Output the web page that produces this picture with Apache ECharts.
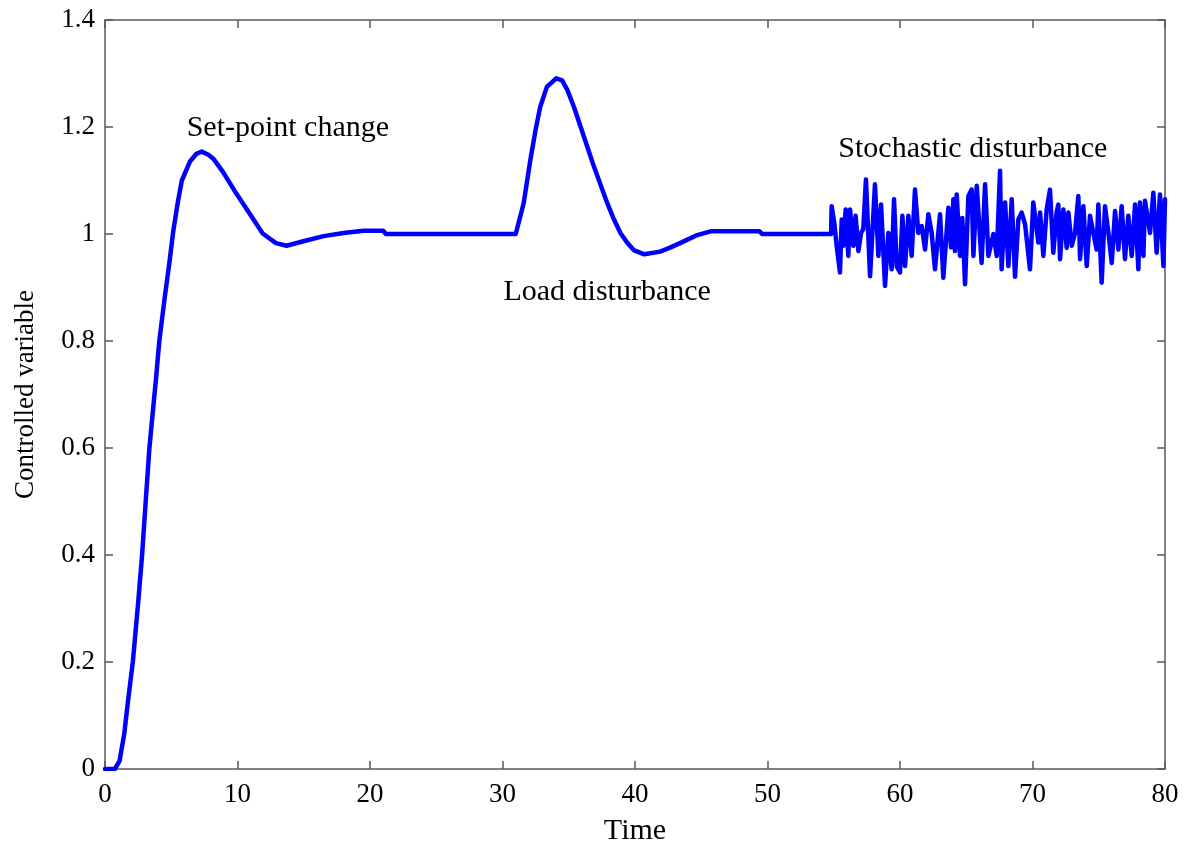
<!DOCTYPE html>
<html>
<head>
<meta charset="utf-8">
<script src="https://cdn.jsdelivr.net/npm/echarts@6/dist/echarts.min.js"></script>
<style>
html,body{margin:0;padding:0;background:#fff;}
#chart{width:1184px;height:846px;}
</style>
</head>
<body>
<div id="chart"></div>
<script>
// ---- Data ----
// Set-point change response
const setpointTime  = [0, 0.5, 0.75, 1.1, 1.45, 1.75, 2.1, 2.5, 2.8, 3.1, 3.35, 3.6, 3.85, 4.1, 4.5, 4.85, 5.15, 5.5, 5.8, 6.4, 6.9, 7.3, 7.8, 8.2, 8.9, 9.9, 10.9, 11.9, 12.9, 13.7, 14.9, 16.5, 18.0, 19.5, 21.0, 21.2, 31.0];
const setpointValue = [0, 0, 0, 0.015, 0.065, 0.13, 0.20, 0.31, 0.40, 0.51, 0.60, 0.665, 0.73, 0.80, 0.88, 0.945, 1.005, 1.06, 1.10, 1.135, 1.15, 1.154, 1.148, 1.140, 1.116, 1.076, 1.039, 1.001, 0.983, 0.978, 0.986, 0.996, 1.002, 1.006, 1.006, 1.0, 1.0];
// Load disturbance response
const loadTime  = [31.6, 32.1, 32.5, 32.85, 33.35, 34.05, 34.5, 34.9, 35.4, 35.9, 36.4, 36.9, 37.4, 37.9, 38.4, 38.9, 39.4, 39.9, 40.7, 41.9, 42.6, 43.4, 44.0, 44.7, 45.7, 49.4, 49.6, 54.8];
const loadValue = [1.058, 1.138, 1.195, 1.238, 1.275, 1.291, 1.287, 1.269, 1.237, 1.200, 1.163, 1.126, 1.092, 1.058, 1.028, 1.002, 0.984, 0.970, 0.962, 0.967, 0.974, 0.983, 0.990, 0.998, 1.005, 1.005, 1.0, 1.0];
// Stochastic disturbance response
const noiseTime = [54.84, 55.04, 55.22, 55.47, 55.6, 55.72, 55.9, 56.1, 56.23, 56.48, 56.65, 56.86, 57.06, 57.23, 57.43, 57.74, 58.11, 58.37, 58.57, 58.87, 59.12, 59.37, 59.55, 59.75, 60.0, 60.18, 60.38, 60.63, 60.88, 61.13, 61.38, 61.64, 61.89, 62.14, 62.39, 62.64, 63.02, 63.27,
  63.4, 63.65, 63.85, 64.03, 64.15, 64.28, 64.53, 64.7, 64.91, 65.16, 65.41, 65.54, 65.79, 66.16, 66.42, 66.67, 67.05, 67.3, 67.55, 67.67, 67.93, 68.18, 68.43, 68.68, 68.93, 69.18, 69.44, 69.81, 70.06, 70.44, 70.57, 70.82, 71.07, 71.32, 71.57, 71.82,
  71.95, 72.08, 72.33, 72.58, 72.71, 72.96, 73.21, 73.46, 73.59, 73.84, 74.09, 74.34, 74.59, 74.84, 74.97, 75.22, 75.47, 75.73, 75.98, 76.23, 76.48, 76.73, 76.98, 77.23, 77.49, 77.74, 77.99, 78.11, 78.37, 78.49, 78.87, 79.12, 79.37, 79.62, 79.88, 80.0];
const noiseValue = [1.052, 1.021, 0.978, 0.928, 1.027, 0.978, 1.046, 0.959, 1.046, 0.978, 1.034, 0.968, 1.002, 1.009, 1.102, 0.921, 1.093, 0.959, 1.055, 0.903, 1.002, 0.934, 1.065, 0.940, 0.928, 1.034, 0.940, 1.034, 0.959, 1.083, 1.002, 1.015, 0.971, 1.037, 1.002, 0.934, 1.037, 0.918,
  0.920, 1.049, 0.975, 1.065, 0.968, 1.074, 0.959, 1.030, 0.906, 1.071, 1.083, 0.959, 1.090, 0.946, 1.093, 0.959, 1.000, 0.959, 1.118, 0.934, 1.059, 0.940, 1.065, 0.920, 1.027, 1.040, 1.018, 0.934, 1.059, 0.984, 1.040, 0.959, 1.046, 1.083, 0.965, 1.040,
  1.055, 0.953, 1.046, 0.974, 1.040, 0.978, 1.002, 1.071, 0.953, 1.052, 0.940, 1.034, 1.002, 0.971, 1.055, 0.909, 1.052, 1.002, 0.946, 1.043, 0.971, 1.052, 0.953, 1.034, 0.959, 1.055, 0.934, 1.059, 0.959, 1.062, 1.002, 1.077, 0.965, 1.074, 0.940, 1.065];
// Axis ticks
const xTicks = [0, 10, 20, 30, 40, 50, 60, 70, 80];
const yTicks = [0, 0.2, 0.4, 0.6, 0.8, 1, 1.2, 1.4];
// Annotations (data coordinates)
const annotationText = ['Set-point change', 'Load disturbance', 'Stochastic disturbance'];
const annotationX = [13.8, 37.9, 65.5];
const annotationY = [1.198, 0.892, 1.158];

// ---- Build series data ----
const curve = [];
function addSeg(ts, vs){ for (let i = 0; i < ts.length; i++) curve.push([ts[i], vs[i]]); }
addSeg(setpointTime, setpointValue);
addSeg(loadTime, loadValue);
addSeg(noiseTime, noiseValue);
const annData = annotationText.map((t, i) => ({ value: [annotationX[i], annotationY[i]], name: t }));

const FONT = '"Liberation Serif", "Times New Roman", serif';
const AXIS_COLOR = '#5a5a5a';
const fmt = v => String(Math.round(v * 10) / 10);

const chart = echarts.init(document.getElementById('chart'), null, { renderer: 'canvas' });
const commonAxisLine = { show: true, onZero: false, lineStyle: { color: AXIS_COLOR, width: 1.5 } };
const commonTick = { show: true, inside: true, length: 8, lineStyle: { color: AXIS_COLOR, width: 1.5 } };

chart.setOption({
  animation: false,
  backgroundColor: '#ffffff',
  grid: { left: 105, right: 19, top: 20, bottom: 77, containLabel: false, outerBoundsMode: 'none' },
  xAxis: [{
    type: 'value', min: xTicks[0], max: xTicks[xTicks.length - 1], interval: xTicks[1] - xTicks[0],
    position: 'bottom',
    name: 'Time', nameLocation: 'middle', nameGap: 47,
    nameTextStyle: { fontFamily: FONT, fontSize: 30, color: '#000' },
    axisLine: commonAxisLine, axisTick: commonTick,
    axisLabel: { fontFamily: FONT, fontSize: 27, color: '#000', margin: 12, formatter: fmt },
    splitLine: { show: false }
  }, {
    type: 'value', min: xTicks[0], max: xTicks[xTicks.length - 1], interval: xTicks[1] - xTicks[0],
    position: 'top',
    axisLine: commonAxisLine, axisTick: commonTick,
    axisLabel: { show: false }, splitLine: { show: false }
  }],
  yAxis: [{
    type: 'value', min: yTicks[0], max: yTicks[yTicks.length - 1], interval: 0.2,
    position: 'left',
    name: 'Controlled variable', nameLocation: 'middle', nameGap: 66,
    nameTextStyle: { fontFamily: FONT, fontSize: 27, color: '#000' },
    axisLine: commonAxisLine, axisTick: commonTick,
    axisLabel: { fontFamily: FONT, fontSize: 27, color: '#000', margin: 10, formatter: fmt },
    splitLine: { show: false }
  }, {
    type: 'value', min: yTicks[0], max: yTicks[yTicks.length - 1], interval: 0.2,
    position: 'right',
    axisLine: commonAxisLine, axisTick: commonTick,
    axisLabel: { show: false }, splitLine: { show: false }
  }],
  series: [{
    type: 'line',
    data: curve,
    xAxisIndex: 0, yAxisIndex: 0,
    showSymbol: false, symbol: 'none',
    lineStyle: { color: '#0000ff', width: 4.5, join: 'round', cap: 'round' },
    itemStyle: { color: '#0000ff' },
    z: 3
  }, {
    type: 'scatter',
    data: annData,
    xAxisIndex: 0, yAxisIndex: 0,
    symbolSize: 0,
    silent: true,
    itemStyle: { opacity: 1, color: '#000' },
    label: {
      show: true, position: 'inside', opacity: 1,
      formatter: p => p.name,
      fontFamily: FONT, fontSize: 30, color: '#000000', textBorderWidth: 0
    },
    z: 4
  }]
});
</script>
</body>
</html>
